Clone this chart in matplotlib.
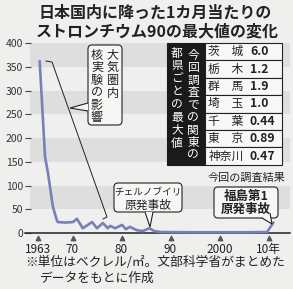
import matplotlib
matplotlib.use('Agg')
import matplotlib.pyplot as plt
from matplotlib.patches import FancyBboxPatch, Rectangle, Polygon

plt.rcParams['font.family'] = ['Noto Sans CJK JP', 'DejaVu Sans']

# data (Bq/m2, monthly maximum)
years = [1963.3, 1964.4, 1965.0, 1966.0, 1966.8, 1967.0, 1968.5, 1970.1, 1970.9,
         1972.1, 1974.0, 1975.0, 1976.2, 1977.2, 1977.7, 1978.7, 1980.1, 1980.9,
         1981.7, 1983.1, 1984.3, 1985.7, 1986.7, 1988.0, 1995.0, 2005.0, 2009.7, 2011.0]
values = [362, 160, 126, 55, 27, 23, 22, 23, 30,
          10, 23, 10, 21, 10, 15, 10, 17, 8,
          13, 6, 4, 10, 4, 2, 1.5, 1.5, 2, 22]

tick_years = [1963, 1970, 1980, 1990, 2000, 2010]
tick_labels = ['1963', '70', '80', '90', '2000', '10年']

prefs = ['茨　城', '栃　木', '群　馬', '埼　玉', '千　葉', '東　京', '神奈川']
pref_max = [6.0, 1.2, 1.9, 1.0, 0.44, 0.89, 0.47]

W, H = 293, 289
BG = '#efefed'
INK = '#222222'
LINE = '#7b7fb8'

fig = plt.figure(figsize=(W / 100, H / 100), dpi=100, facecolor=BG)
ax = fig.add_axes([25 / W, 1 - 233 / H, 265 / W, 190 / H])
ax.set_facecolor('none')

px_per_year = 4.9
ax.set_xlim(1970 + (25 - 72.5) / px_per_year, 1970 + (290 - 72.5) / px_per_year)
ax.set_ylim(0, 400)

for lo in range(50, 400, 100):
    ax.axhspan(lo, lo + 50, xmin=5 / 265, color='#dedede', lw=0, zorder=0)

ax.plot(years, values, color=LINE, lw=1.9, solid_joinstyle='round',
        solid_capstyle='round', clip_on=False, zorder=3)

for s in ['top', 'right', 'left']:
    ax.spines[s].set_visible(False)
ax.spines['bottom'].set_color(INK)
ax.spines['bottom'].set_linewidth(1.1)

ax.set_yticks(range(0, 401, 50))
ax.tick_params(axis='y', direction='in', length=4.5, width=0.8, color='#444', pad=1.5,
               labelsize=7.5, labelcolor='#333')
ax.set_xticks(tick_years)
ax.set_xticklabels(tick_labels)
ax.tick_params(axis='x', length=0, pad=7, labelsize=8.5, labelcolor=INK)
ax.scatter(tick_years, [-0.027] * len(tick_years), marker='^', s=10, color='#555',
           transform=ax.get_xaxis_transform(), clip_on=False, zorder=4)

# overlay in pixel coordinates for titles, callouts and table
ov = fig.add_axes([0, 0, 1, 1])
ov.set_xlim(0, W)
ov.set_ylim(H, 0)
ov.axis('off')

ov.text(155, 13, '日本国内に降った1カ月当たりの', ha='center', va='center',
        fontsize=11.5, fontweight='bold', color=INK)
ov.text(157, 31, 'ストロンチウム90の最大値の変化', ha='center', va='center',
        fontsize=11.5, fontweight='bold', color=INK)


def vtext(x, y0, pitch, s, **kw):
    for i, ch in enumerate(s):
        ov.text(x, y0 + i * pitch, ch, ha='center', va='center', **kw)


def callout(x0, y0, x1, y1, tail):
    ov.add_patch(FancyBboxPatch((x0, y0), x1 - x0, y1 - y0,
                                boxstyle='round,pad=0,rounding_size=4',
                                fc='#f6f6f4', ec=INK, lw=0.8, zorder=2))
    ov.add_patch(Polygon(tail, closed=True, fc='#f6f6f4', ec='none', zorder=3))
    ov.add_patch(Polygon(tail, closed=False, fill=False, ec=INK, lw=0.8, zorder=3))


# nuclear-test bracket and callout
ov.plot([46, 52, 107, 103], [61, 62, 217, 219], color=INK, lw=0.7)
callout(88, 45, 122, 125, [(88, 103), (70, 108), (88, 111)])
vtext(113, 55, 12.7, '大気圏内', fontsize=8.7, color=INK)
vtext(97, 55, 12.6, '核実験の影響', fontsize=8.7, color=INK)

# Chernobyl
callout(114, 183, 182, 212, [(145, 212), (150, 227), (153, 212)])
ov.text(148, 193, 'チェルノブイリ', ha='center', va='center', fontsize=6.9, color=INK)
ov.text(148, 205.5, '原発事故', ha='center', va='center', fontsize=8.5, color=INK)

# Fukushima
ov.text(247, 178, '今回の調査結果', ha='center', va='center', fontsize=8, color=INK)
callout(214, 187, 278, 218, [(262, 218), (272, 224), (270, 213)])
ov.text(246, 196, '福島第1', ha='center', va='center', fontsize=9, color=INK,
        fontweight='bold')
ov.text(246, 209, '原発事故', ha='center', va='center', fontsize=9, color=INK,
        fontweight='bold')

# prefecture table
top, row_h = 43, 17.4
bottom = top + row_h * len(prefs)
ov.add_patch(Rectangle((167, top), 38, bottom - top, fc='#1a1a1a', ec='#1a1a1a', lw=0.8))
vtext(193, 55, 12.5, '今回調査での関東の', fontsize=8.5, color='white')
vtext(177, 53, 12.9, '都県ごとの最大値', fontsize=8.5, color='white')
for i, (name, v) in enumerate(zip(prefs, pref_max)):
    y = top + i * row_h
    ov.add_patch(Rectangle((205, y), 77, row_h, fc='#f8f8f6', ec=INK, lw=0.8))
    ov.text(226, y + row_h / 2, name, ha='center', va='center', fontsize=8.5, color=INK)
    ov.text(250, y + row_h / 2, str(v), ha='left', va='center', fontsize=8.8,
            fontweight='bold', color=INK)

# footnote
ov.text(25, 262, '※単位はベクレル/㎡。文部科学省がまとめた', ha='left', va='center',
        fontsize=9.2, color=INK)
ov.text(40, 278, 'データをもとに作成', ha='left', va='center', fontsize=9.2, color=INK)

fig.savefig('out.png', dpi=100, facecolor=BG)
